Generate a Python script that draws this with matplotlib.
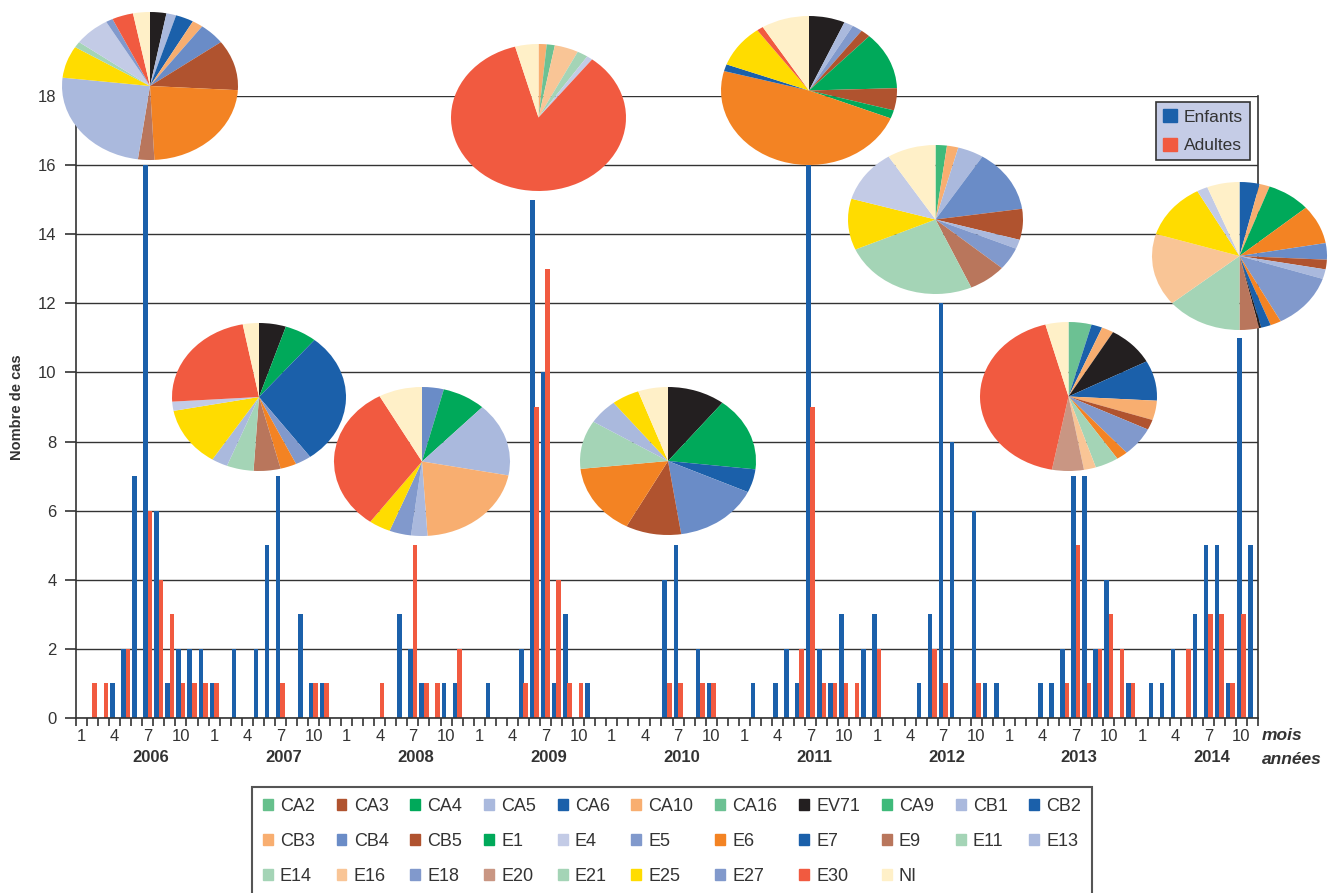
import numpy as np
import matplotlib
matplotlib.use("Agg")
import matplotlib.pyplot as plt
from matplotlib.patches import Patch

plt.rcParams.update({
    "font.family": ["Liberation Sans", "DejaVu Sans"],
    "text.color": "#333333",
    "axes.labelcolor": "#333333",
    "xtick.color": "#333333",
    "ytick.color": "#333333",
})

W, H = 1342, 893

# Données mensuelles (janv. 2006 -> nov. 2014)
enfants = [
    0, 0, 0, 1, 2, 7, 16, 6, 1, 2, 2, 2,      # 2006
    1, 0, 2, 0, 2, 5, 7, 0, 3, 1, 1, 0,       # 2007
    0, 0, 0, 0, 0, 3, 2, 1, 0, 1, 1, 0,       # 2008
    0, 1, 0, 0, 2, 15, 10, 1, 3, 0, 1, 0,     # 2009
    0, 0, 0, 0, 0, 4, 5, 0, 2, 1, 0, 0,       # 2010
    0, 1, 0, 1, 2, 1, 16, 2, 1, 3, 0, 2,      # 2011
    3, 0, 0, 0, 1, 3, 12, 8, 0, 6, 1, 1,      # 2012
    0, 0, 0, 1, 1, 2, 7, 7, 2, 4, 0, 1,       # 2013
    0, 1, 1, 2, 0, 3, 5, 5, 1, 11, 5,         # 2014
]
adultes = [
    0, 1, 1, 0, 2, 0, 6, 4, 3, 1, 1, 1,
    1, 0, 0, 0, 0, 0, 1, 0, 0, 1, 1, 0,
    0, 0, 0, 1, 0, 0, 5, 1, 1, 0, 2, 0,
    0, 0, 0, 0, 1, 9, 13, 4, 1, 1, 0, 0,
    0, 0, 0, 0, 0, 1, 1, 0, 1, 1, 0, 0,
    0, 0, 0, 0, 0, 2, 9, 1, 1, 1, 1, 0,
    2, 0, 0, 0, 0, 2, 1, 0, 0, 1, 0, 0,
    0, 0, 0, 0, 0, 1, 5, 1, 2, 3, 2, 1,
    0, 0, 0, 0, 2, 0, 3, 3, 1, 3, 0,
]
annees = ["2006", "2007", "2008", "2009", "2010", "2011", "2012", "2013", "2014"]
mois_labels = ["1", "4", "7", "10"]

# Sérotypes (ordre de la légende)
serotypes = ["CA2", "CA3", "CA4", "CA5", "CA6", "CA10", "CA16", "EV71", "CA9", "CB1", "CB2",
             "CB3", "CB4", "CB5", "E1", "E4", "E5", "E6", "E7", "E9", "E11", "E13",
             "E14", "E16", "E18", "E20", "E21", "E25", "E27", "E30", "NI"]
couleurs = {
    "CA2": "#66c08c", "CA3": "#b0532f", "CA4": "#00a95a", "CA5": "#aab9dd",
    "CA6": "#1b60aa", "CA10": "#f8ae70", "CA16": "#6cc193", "EV71": "#231f20",
    "CA9": "#3fba7a", "CB1": "#aab9dd", "CB2": "#1b60aa", "CB3": "#f8ae70",
    "CB4": "#6a8cc7", "CB5": "#b0532f", "E1": "#00a95a", "E4": "#c3cbe6",
    "E5": "#8199cc", "E6": "#f38323", "E7": "#1b60aa", "E9": "#b9765c",
    "E11": "#a4d4b6", "E13": "#aab9dd", "E14": "#a4d4b6", "E16": "#f9c596",
    "E18": "#8199cc", "E20": "#c99683", "E21": "#a4d4b6", "E25": "#ffdc00",
    "E27": "#8199cc", "E30": "#f15a40", "NI": "#fff0c8",
}

# Répartition des sérotypes par année (sens horaire depuis midi)
pie_2006_labels = ["EV71", "CB1", "CB2", "CB3", "CB4", "CB5", "E6", "E9", "E13", "E25", "E21", "E4", "E27", "E30", "NI"]
pie_2006_values = [3, 1.8, 3.3, 2, 4.8, 11, 23.3, 3, 24.6, 7, 1.3, 6.6, 1.3, 3.9, 3.1]
pie_2007_labels = ["EV71", "E1", "CB2", "E27", "E6", "E9", "E11", "E13", "E25", "E4", "E30", "NI"]
pie_2007_values = [5, 6, 29, 3, 3, 5, 5, 3, 13, 2, 23, 3]
pie_2008_labels = ["CB4", "E1", "CB1", "CB3", "E13", "E5", "E25", "E30", "NI"]
pie_2008_values = [4, 8, 16, 21, 3, 4, 4, 32, 8]
pie_2009_labels = ["CA10", "CA16", "E16", "E14", "E4", "E30", "NI"]
pie_2009_values = [1.5, 1.5, 4.4, 2, 1.1, 85.2, 4.3]
pie_2010_labels = ["EV71", "E1", "E7", "CB4", "CB5", "E6", "E11", "E13", "E25", "NI"]
pie_2010_values = [10.6, 16.2, 5.1, 15.7, 10.2, 15.5, 10.6, 5.5, 5.1, 5.5]
pie_2011_labels = ["EV71", "E13", "E5", "CA3", "E1", "CB5", "CA4", "E6", "E7", "E25", "E30", "NI"]
pie_2011_values = [6.6, 1.7, 1.9, 1.8, 12.5, 4.8, 1.8, 48.1, 1.5, 9.3, 1.2, 8.8]
pie_2012_labels = ["CA9", "CB3", "CB1", "CB4", "CB5", "E13", "E18", "E9", "E14", "E25", "E4", "NI"]
pie_2012_values = [2.1, 2.1, 4.8, 13.7, 6.7, 2, 4.9, 7, 25.1, 11.1, 11.5, 9]
pie_2013_labels = ["CA16", "CA6", "CA10", "EV71", "CB2", "CB3", "CB5", "E18", "E6", "E21", "E16", "E20", "E30", "NI"]
pie_2013_values = [4.2, 2, 2.2, 8.8, 8.7, 4.2, 2.2, 6.3, 2.1, 4.3, 2.2, 5.8, 42.8, 4.2]
pie_2014_labels = ["CA6", "CA10", "CA4", "E6", "CB4", "CB5", "CB1", "E18", "E6", "E7", "EV71", "E9", "E14", "E16", "E25", "E4", "NI"]
pie_2014_values = [3.7, 1.9, 8.1, 8.5, 3.6, 2.1, 2.1, 12.2, 2, 1.8, 0.4, 3.6, 14, 15.8, 12.2, 2, 6]

pies = [
    (pie_2006_labels, pie_2006_values, (62, 12, 238, 160)),
    (pie_2007_labels, pie_2007_values, (172, 323, 346, 471)),
    (pie_2008_labels, pie_2008_values, (334, 387, 510, 536)),
    (pie_2009_labels, pie_2009_values, (451, 44, 626, 191)),
    (pie_2010_labels, pie_2010_values, (580, 387, 756, 535)),
    (pie_2011_labels, pie_2011_values, (721, 16, 897, 165)),
    (pie_2012_labels, pie_2012_values, (848, 145, 1023, 294)),
    (pie_2013_labels, pie_2013_values, (980, 322, 1157, 471)),
    (pie_2014_labels, pie_2014_values, (1152, 182, 1327, 330)),
]

BLEU = "#1b60aa"
ROUGE = "#f15a40"


def px_box(l, t, r, b):
    return [l / W, 1 - b / H, (r - l) / W, (b - t) / H]


fig = plt.figure(figsize=(W / 100, H / 100), dpi=100)
ax = fig.add_axes(px_box(76, 96, 1258, 718))

x = np.arange(len(enfants))
ax.bar(x - 0.2, enfants, width=0.42, color=BLEU, linewidth=0)
ax.bar(x + 0.2, adultes, width=0.42, color=ROUGE, linewidth=0)

ax.set_xlim(-0.5, len(enfants) - 0.5)
ax.set_ylim(0, 18)
ax.set_yticks(np.arange(0, 19, 2))
ax.grid(True, axis="y", color="#333333", linewidth=1)
ax.set_axisbelow(True)
for s in ax.spines.values():
    s.set_color("#333333")
    s.set_linewidth(1.2)
ax.spines["top"].set_visible(False)

maj = [i for i in range(len(enfants)) if i % 12 in (0, 3, 6, 9)]
ax.set_xticks(maj)
ax.set_xticklabels([mois_labels[(i % 12) // 3] for i in maj], fontsize=12)
ax.set_xticks(np.arange(-0.5, len(enfants), 1), minor=True)
ax.tick_params(axis="x", which="major", length=0, pad=8)
ax.tick_params(axis="x", which="minor", length=6, width=1.2, direction="out")
ax.tick_params(axis="y", length=8, width=1.2, labelsize=12, pad=6)

ax.set_ylabel("Nombre de cas", fontsize=10.5, fontweight="bold")
ax.yaxis.set_label_coords(-(76 - 24) / 1182, 0.5)

for k, an in enumerate(annees):
    ax.text(12 * k + 6.3, -(758 - 718) / 622, an, transform=ax.get_xaxis_transform(),
            ha="center", va="center", fontsize=12, fontweight="bold")

fig.text(1262 / W, 1 - 736 / H, "mois", fontsize=12.5, fontweight="bold", style="italic",
         ha="left", va="center")
fig.text(1262 / W, 1 - 760 / H, "années", fontsize=12.5, fontweight="bold", style="italic",
         ha="left", va="center")

leg1 = ax.legend([Patch(color=BLEU), Patch(color=ROUGE)], ["Enfants", "Adultes"],
                 loc="upper right", bbox_to_anchor=(1 - 8 / 1182, 1 - 6 / 622), borderaxespad=0,
                 fontsize=12.5, fancybox=False, framealpha=1, facecolor="#c5cce6",
                 edgecolor="#333333", handlelength=0.8, handleheight=0.8, handletextpad=0.4,
                 labelspacing=0.75, borderpad=0.4)
leg1.get_frame().set_linewidth(1.2)

# Camemberts par année
for labels, values, box in pies:
    pax = fig.add_axes(px_box(*box))
    pax.pie(values, colors=[couleurs[l] for l in labels], startangle=90, counterclock=False,
            radius=1, wedgeprops=dict(linewidth=0))
    pax.set_xlim(-1, 1)
    pax.set_ylim(-1, 1)
    pax.set_aspect("auto")
    pax.axis("off")

# Légende des sérotypes (remplissage ligne par ligne)
ncol = 11
rows = [serotypes[i:i + ncol] for i in range(0, len(serotypes), ncol)]
ordre = []
for c in range(ncol):
    for r in rows:
        if c < len(r):
            ordre.append(r[c])
leg2 = fig.legend([Patch(color=couleurs[s]) for s in ordre], ordre, ncol=ncol,
                  loc="upper left", bbox_to_anchor=(252 / W, 1 - 787 / H), borderaxespad=0,
                  fontsize=13, fancybox=False, framealpha=1, edgecolor="#555555",
                  handlelength=0.55, handleheight=0.55, handletextpad=0.4, columnspacing=1.2,
                  labelspacing=1.0, borderpad=0.6)
leg2.get_frame().set_linewidth(1.5)

fig.savefig("out.png", dpi=100)
